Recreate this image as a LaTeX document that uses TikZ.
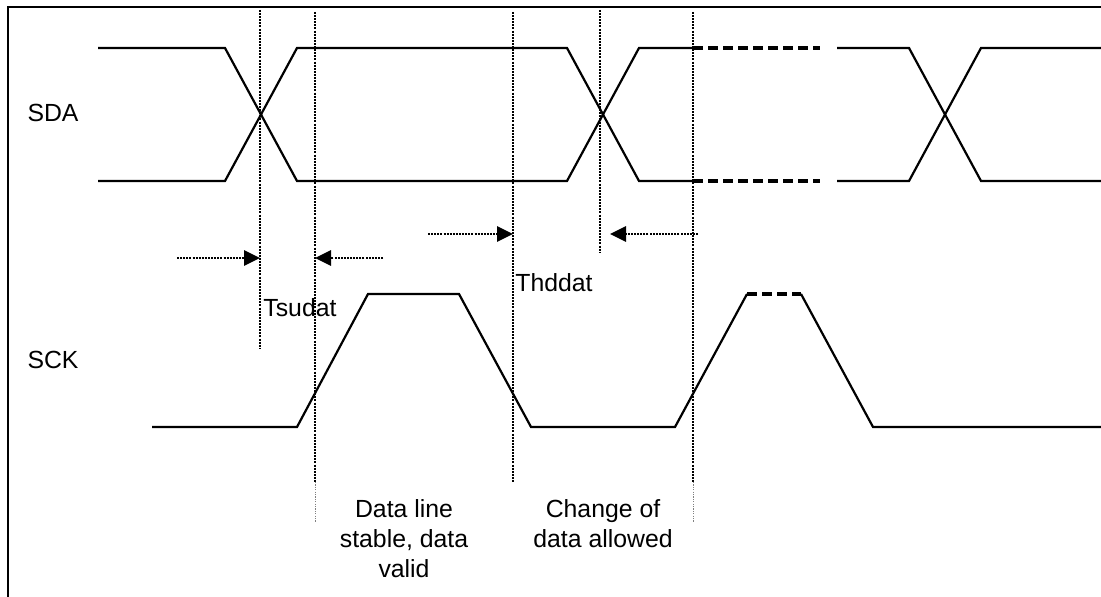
\documentclass[tikz,border=0pt]{standalone}
\usepackage{fontspec}
\setmainfont{Liberation Sans}
\usetikzlibrary{arrows.meta,positioning}

\begin{document}
\begin{tikzpicture}[x=0.5pt,y=-0.5pt]
	\tikzset{
		signal/.style={line width=1.1pt},
		gap/.style={line width=1.6pt,dash pattern=on 5pt off 2.5pt},
		guide/.style={line width=1.4pt,dash pattern=on 1pt off 0.55pt},
		faint/.style={line width=0.4pt,gray,dash pattern=on 0.6pt off 0.6pt},
		timing/.style={guide,-{Triangle[length=8pt,width=7.5pt]}},
		label/.style={font=\fontsize{12.4}{15}\selectfont,inner sep=0pt},
		note/.style={label,align=center}
	}
	\useasboundingbox (0,0) rectangle (1101,597);
	\draw[line width=1.4pt] (8,620) -- (8,7) -- (1130,7);
	% signal names
	\node[label] (sda) at (53,113) {SDA};
	\node[label] (sck) at (53,360) {SCK};
	% SDA
	\draw[signal] (98,48) -- (225,48) -- (297,181) -- (567,181) -- (639,48) -- (693,48);
	\draw[signal] (98,181) -- (225,181) -- (297,48) -- (567,48) -- (639,181) -- (693,181);
	\draw[gap] (693,48) -- (820,48) (693,181) -- (820,181);
	\draw[signal] (837,48) -- (909,48) -- (981,181) -- (1101,181);
	\draw[signal] (837,181) -- (909,181) -- (981,48) -- (1101,48);
	% SCK
	\draw[signal] (152,427) -- (297,427) -- (368,294) -- (459,294) -- (531,427) -- (675,427) -- (747,294);
	\draw[gap] (747,294) -- (801,294);
	\draw[signal] (801,294) -- (873,427) -- (1101,427);
	% guides
	\coordinate (su) at (260,10);
	\coordinate (hi) at (315,12);
	\coordinate (hd) at (513,12);
	\coordinate (ch) at (600,10);
	\coordinate (lo) at (693,12);
	\draw[guide] (su) -- (260,348);
	\draw[guide] (hi) -- (315,482);
	\draw[guide] (hd) -- (513,482);
	\draw[guide] (ch) -- (600,252);
	\draw[guide] (lo) -- (693,482);
	\draw[faint] (315,482) -- (315,522);
	\draw[faint] (693,482) -- (693,522);
	% timing arrows
	\coordinate (a1) at (177,258);
	\coordinate (a2) at (383,258);
	\coordinate (a3) at (428,234);
	\coordinate (a4) at (698,234);
	\path
		(a1) edge[timing] (a1 -| su)
		(a2) edge[timing] (a2 -| hi)
		(a3) edge[timing] (a3 -| hd)
		(a4) edge[timing] (610,234);
	\node[label,anchor=west] (tsu) at (263,308) {Tsudat};
	\node[label,anchor=west] (thd) at (515,283) {Thddat};
	% notes
	\node[note] (stable) at (404,539) {Data line\\stable, data\\valid};
	\node[note] (change) at (603,524) {Change of\\data allowed};
\end{tikzpicture}
\end{document}
